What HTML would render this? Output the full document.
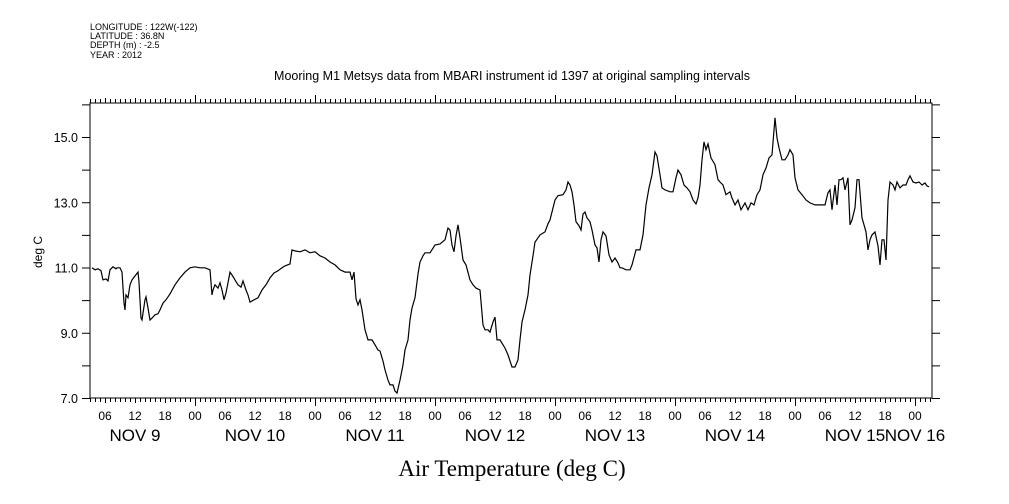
<!DOCTYPE html>
<html><head><meta charset="utf-8"><style>
body{margin:0;background:#fff}
svg{display:block;font-family:"Liberation Sans",sans-serif}
</style></head><body>
<svg id="chart" width="1009" height="504" viewBox="0 0 1009 504" xmlns="http://www.w3.org/2000/svg">
<g font-size="9" fill="#000">
<text x="90" y="30">LONGITUDE : 122W(-122)</text>
<text x="90" y="39">LATITUDE : 36.8N</text>
<text x="90" y="48">DEPTH (m) : -2.5</text>
<text x="90" y="58">YEAR : 2012</text>
</g>
<text x="512" y="80" text-anchor="middle" font-size="12.5">Mooring M1 Metsys data from MBARI instrument id 1397 at original sampling intervals</text>
<rect x="90" y="103" width="842" height="295" fill="none" stroke="#000" stroke-width="1"/>
<g id="ticks" stroke="#000" stroke-width="1"></g>
<g id="labels" fill="#000"></g>
<path id="line" fill="none" stroke="#000" stroke-width="1.2"/>
<text x="0" y="0" transform="translate(42,252) rotate(-90)" text-anchor="middle" font-size="12">deg C</text>
<text x="512" y="476" text-anchor="middle" font-family="'Liberation Serif',serif" font-size="23">Air Temperature (deg C)</text>
</svg>
<script>
const hours=[3.4,4.0,4.6,5.2,5.6,6.2,6.6,7.0,7.6,8.2,8.4,9.0,9.4,9.8,10.0,10.2,10.6,11.0,11.4,12.0,12.6,12.8,13.2,13.4,14.0,14.2,14.6,15.0,15.4,16.0,16.6,17.0,17.6,18.2,19.0,20.0,21.0,22.0,23.0,24.0,25.0,26.0,27.0,27.4,27.6,28.0,28.6,29.0,29.4,29.8,30.2,30.6,31.0,31.4,32.0,32.6,33.2,33.6,34.2,34.6,35.0,35.8,36.6,37.4,38.2,39.0,39.8,40.6,41.4,42.0,43.0,43.4,44.0,45.0,46.0,47.0,48.0,49.0,50.0,51.0,52.0,53.0,54.0,55.0,55.4,55.8,56.2,56.6,57.0,57.4,58.0,58.6,59.4,60.0,60.6,61.0,61.6,62.0,62.6,63.0,63.6,64.0,64.4,65.0,65.6,66.0,66.6,67.0,67.4,68.0,68.6,69.0,69.6,70.0,71.0,72.0,73.0,74.0,74.6,75.0,75.4,75.8,76.2,76.6,77.0,77.6,78.2,79.0,79.6,80.2,81.0,81.6,82.0,82.6,83.0,83.6,84.0,84.4,85.0,85.6,86.0,86.6,87.4,88.0,88.6,89.0,89.4,90.0,90.6,91.0,91.6,92.0,92.6,93.0,94.0,94.6,95.0,96.0,96.6,97.6,98.2,98.6,99.0,99.4,99.8,100.2,100.8,101.2,101.6,102.0,102.4,103.0,103.4,104.0,104.4,104.8,105.2,105.6,106.2,106.8,107.4,108.0,108.6,109.0,109.4,110.2,111.0,111.4,112.2,113.0,113.6,114.2,114.8,115.4,116.0,116.4,117.0,117.4,118.0,119.0,119.6,120.2,120.6,121.2,121.8,122.4,123.0,123.6,124.2,124.6,125.0,125.4,125.8,126.2,126.6,127.2,128.0,128.6,129.0,129.6,130.2,131.0,131.4,132.0,132.6,133.2,134.0,134.6,135.2,135.8,136.4,137.0,137.6,138.2,138.8,139.4,140.0,140.4,140.8,141.4,142.0,142.6,143.0,143.6,144.0,144.6,145.4,146.2,147.0,148.0,149.0,150.0,150.6,151.0,151.4,152.0,152.4,152.8,153.2,153.6,154.0,154.6,155.0,155.4,156.0,156.4,156.8,157.4,157.8,158.2,158.6,159.0,159.4,160.0,160.6,161.0,161.4,161.8,162.2,162.6,163.0,163.6,164.0,164.4,165.0,165.6,166.2,166.6,167.0,167.6,168.2,168.8,169.4,170.0,170.4,170.8];
const temps=[10.99,10.93,10.96,10.90,10.62,10.65,10.59,10.93,11.02,10.96,10.99,10.99,10.86,9.91,9.70,10.16,10.07,10.47,10.62,10.74,10.86,10.56,9.45,9.39,10.01,10.10,9.76,9.39,9.45,9.55,9.58,9.70,9.91,10.01,10.19,10.47,10.68,10.86,10.99,11.02,10.99,10.99,10.93,10.16,10.31,10.47,10.37,10.53,10.31,10.01,10.22,10.53,10.86,10.77,10.62,10.47,10.40,10.59,10.31,10.16,9.94,10.01,10.07,10.31,10.47,10.68,10.83,10.90,10.99,11.05,11.11,11.54,11.51,11.48,11.54,11.45,11.48,11.36,11.29,11.17,11.08,10.93,10.86,10.86,10.62,10.86,10.04,9.85,10.01,9.70,9.09,8.78,8.78,8.63,8.47,8.44,8.13,7.86,7.55,7.40,7.40,7.21,7.15,7.55,8.01,8.47,8.78,9.39,9.76,10.07,10.80,11.17,11.36,11.45,11.45,11.69,11.72,11.85,12.21,12.15,11.69,11.48,11.97,12.31,11.91,11.23,11.08,10.62,10.47,10.37,10.31,9.24,9.09,9.09,9.02,9.33,9.48,8.78,8.78,8.63,8.53,8.32,7.95,7.95,8.17,8.78,9.33,9.70,10.16,10.77,11.36,11.78,11.91,12.00,12.09,12.34,12.46,13.07,13.20,13.23,13.38,13.62,13.53,13.32,12.92,12.40,12.28,12.15,12.64,12.70,12.52,12.40,12.15,11.69,11.60,11.17,11.85,12.09,11.97,11.39,11.17,11.29,11.14,10.99,10.99,10.93,10.93,11.08,11.54,11.54,12.00,12.92,13.44,13.84,14.54,14.42,13.84,13.44,13.38,13.32,13.32,13.75,13.99,13.84,13.53,13.44,13.32,13.07,12.95,13.13,13.53,14.30,14.85,14.61,14.79,14.36,14.15,13.69,13.62,13.53,13.23,13.32,13.13,12.92,13.07,12.77,12.98,12.77,12.98,12.92,13.23,13.38,13.84,14.05,14.36,14.45,15.59,14.97,14.67,14.30,14.30,14.45,14.61,14.45,13.75,13.38,13.23,13.07,12.98,12.92,12.92,12.92,13.29,13.38,12.77,13.53,12.92,13.69,13.69,13.75,13.38,13.75,12.31,12.46,12.83,13.69,13.69,12.52,12.31,12.09,11.54,11.85,12.00,12.09,11.66,11.08,11.85,11.85,11.23,13.07,13.62,13.53,13.38,13.62,13.44,13.53,13.53,13.69,13.81,13.62,13.59,13.62,13.53,13.59,13.50,13.47];
const yTickValues=[7,8,9,10,11,12,13,14,15,16];
const yTickLabels=["7.0","9.0","11.0","13.0","15.0"];
const hourLabels=["00","06","12","18"];
const dayLabels=["NOV  9","NOV 10","NOV 11","NOV 12","NOV 13","NOV 14","NOV 15","NOV 16"];

const X0=90,X1=932,Y0=398,Y1=103;
function xs(h){return 75+5*h;}
function ys(v){return 398-(v-7)*32.625;}
const NS="http://www.w3.org/2000/svg";
const tk=document.getElementById('ticks'),lb=document.getElementById('labels');
function ln(x1,y1,x2,y2,name){const l=document.createElementNS(NS,'line');
l.setAttribute('x1',x1);l.setAttribute('y1',y1);l.setAttribute('x2',x2);l.setAttribute('y2',y2);


tk.appendChild(l);}
function tx(x,y,s,size,anchor,name){const t=document.createElementNS(NS,'text');
t.setAttribute('x',x);t.setAttribute('y',y);t.setAttribute('font-size',size);t.setAttribute('text-anchor',anchor);
t.textContent=s;


lb.appendChild(t);}
for(let h=0;h<=172;h++){const x=xs(h)+0.5;if(x<X0||x>X1)continue;
 const len=h%24===0?8:(h%6===0?5:4);
 ln(x,Y0,x,Y0+len,'x-tick');ln(x,Y1,x,Y1-len,'x-tick-top');
 if(h%6===0)tx(xs(h),420,hourLabels[(h%24)/6],12,'middle','x-tick-label');}
dayLabels.forEach((d,i)=>{const h=i===7?i*24:i*24+12;tx(xs(h),441,d,17,'middle','day-label');});
yTickValues.forEach(v=>{const y=ys(v)+0.5;ln(X0-8,y,X0,y,'y-tick');ln(X1,y,X1+8,y,'y-tick-right');});
yTickLabels.forEach(s=>{tx(78,ys(parseFloat(s))+5,s,12.5,'end','y-tick-label');});
let d='';hours.forEach((h,i)=>{d+=(i?'L':'M')+xs(h).toFixed(1)+' '+ys(temps[i]).toFixed(1);});
document.getElementById('line').setAttribute('d',d);
</script>
</body></html>
